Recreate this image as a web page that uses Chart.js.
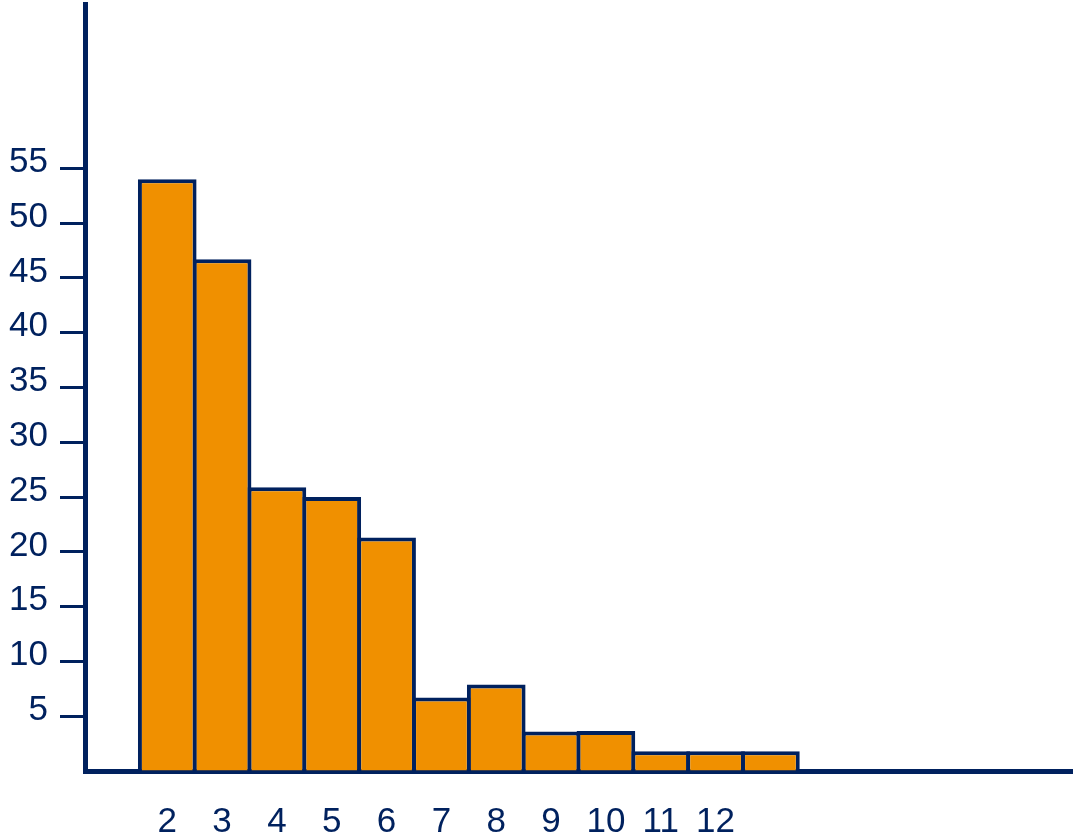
<!DOCTYPE html>
<html>
<head>
<meta charset="utf-8">
<script src="https://cdn.jsdelivr.net/npm/chart.js@4.4.0/dist/chart.umd.min.js"></script>
<style>
html,body{margin:0;padding:0;background:#fff;}
#wrap{width:1075px;height:834px;position:relative;}
</style>
</head>
<body>
<div id="wrap"><canvas id="c" width="1075" height="834"></canvas></div>
<script>
const categories = ['', '2', '3', '4', '5', '6', '7', '8', '9', '10', '11', '12', '', '', '', '', '', ''];
const values = [null, 54, 46.7, 25.9, 25, 21.3, 6.7, 7.9, 3.6, 3.65, 1.8, 1.8, 1.8, null, null, null, null, null];
const yTicksShown = [5, 10, 15, 20, 25, 30, 35, 40, 45, 50, 55];

const NAVY = '#00215E';
const ORANGE = '#F09000';
const FONT = { family: '"Liberation Sans", Arial, sans-serif', size: 35 };

new Chart(document.getElementById('c'), {
  type: 'bar',
  data: {
    labels: categories,
    datasets: [{
      data: values,
      backgroundColor: ORANGE,
      borderColor: NAVY,
      borderWidth: 4,
      borderSkipped: 'start',
      barPercentage: 1.07,
      categoryPercentage: 1
    }]
  },
  options: {
    responsive: false,
    animation: false,
    layout: { padding: { top: 4, right: 3, left: 0, bottom: 0 } },
    plugins: { legend: { display: false }, tooltip: { enabled: false } },
    scales: {
      x: {
        grid: { display: false, drawTicks: false },
        border: { display: true, color: NAVY, width: 5 },
        ticks: {
          color: NAVY,
          font: FONT,
          padding: 30,
          maxRotation: 0,
          autoSkip: false
        },
        afterFit: s => { s.height = 63; s.paddingLeft = 0; s.paddingRight = 0; }
      },
      y: {
        min: 0,
        max: 70,
        grid: {
          drawOnChartArea: false,
          drawTicks: true,
          tickLength: 25,
          tickWidth: 3,
          tickColor: ctx => (ctx.tick && yTicksShown.includes(ctx.tick.value)) ? NAVY : 'rgba(0,0,0,0)'
        },
        border: { display: true, color: NAVY, width: 5 },
        ticks: {
          stepSize: 5,
          color: NAVY,
          padding: 12,
          labelOffset: -6,
          font: FONT,
          callback: v => yTicksShown.includes(v) ? String(v) : ''
        },
        afterFit: s => { s.width = 85; s.paddingTop = 0; s.paddingBottom = 0; }
      }
    }
  }
});
</script>
</body>
</html>
